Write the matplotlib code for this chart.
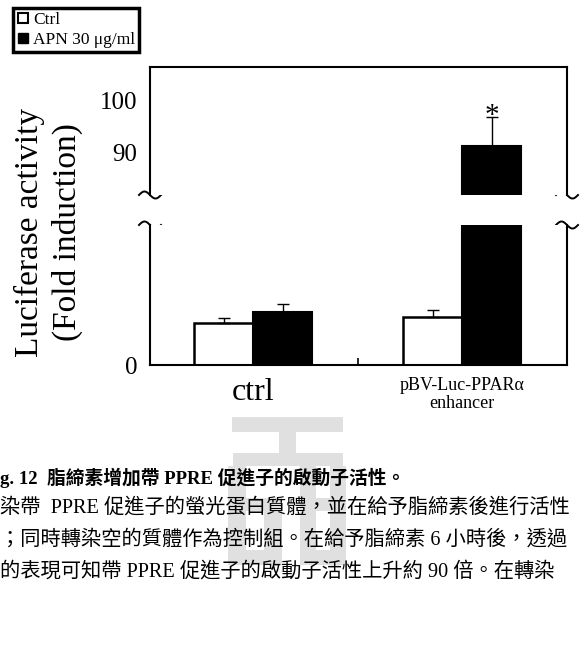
import numpy as np
import matplotlib.pyplot as plt
from matplotlib.lines import Line2D
from matplotlib.patches import Rectangle

# data
groups = ['ctrl', 'pBV-Luc-PPARα\nenhancer']
series = ['Ctrl', 'APN 30 μg/ml']
ctrl_vals = [1.00, 1.14]
ctrl_err = [0.12, 0.17]
apn_vals = [1.26, 91.35]
apn_err = [0.19, 5.6]
upper_ticks = [90, 100]
lower_ticks = [0]
caption = [
    'g. 12  脂締素增加帶 PPRE 促進子的啟動子活性。',
    '染帶  PPRE 促進子的螢光蛋白質體，並在給予脂締素後進行活性',
    '；同時轉染空的質體作為控制組。在給予脂締素 6 小時後，透過',
    '的表現可知帶 PPRE 促進子的啟動子活性上升約 90 倍。在轉染',
]

plt.rcParams['font.family'] = ['Liberation Serif', 'Noto Sans CJK TC']

W, H = 582, 652
fig = plt.figure(figsize=(W / 100, H / 100), dpi=100)
fig.patch.set_facecolor('white')


def box(x0, y0, x1, y1):
    # pixel box (top-left origin) -> figure fraction rect
    return [x0 / W, 1 - y1 / H, (x1 - x0) / W, (y1 - y0) / H]


# background layer in pixel coords: watermark + axis break marks
bg = fig.add_axes([0, 0, 1, 1], zorder=-1)
bg.set_xlim(0, W)
bg.set_ylim(H, 0)
bg.axis('off')
wm = '#e0e0e0'
for (x0, y0, x1, y1) in [(232, 417, 343, 432), (279, 432, 296, 453), (233, 453, 343, 466),
                         (228, 466, 246, 565), (228, 550, 282, 565), (246, 498, 282, 511),
                         (264, 511, 282, 550), (300, 466, 316, 565), (330, 466, 346, 565),
                         (300, 550, 346, 565), (316, 498, 330, 511)]:
    bg.add_patch(Rectangle((x0, y0), x1 - x0, y1 - y0, color=wm, lw=0))

# axes
ax_top = fig.add_axes(box(150, 67, 567, 195))
ax_bot = fig.add_axes(box(150, 225, 567, 365))

x = np.arange(len(groups))
w = 0.282
for ax in (ax_top, ax_bot):
    ax.bar(x - w / 2, ctrl_vals, w, color='white', edgecolor='black', linewidth=1.8,
           yerr=[np.zeros(len(x)), ctrl_err], capsize=4,
           error_kw=dict(ecolor='black', elinewidth=1, capthick=1))
    ax.bar(x + w / 2, apn_vals, w, color='black', edgecolor='black', linewidth=1.5,
           yerr=[np.zeros(len(x)), apn_err], capsize=4,
           error_kw=dict(ecolor='black', elinewidth=1, capthick=1))
    ax.set_xlim(-0.493, 1.502)
    for s in ax.spines.values():
        s.set_linewidth(1.5)
    ax.tick_params(axis='y', length=0, labelsize=18, pad=9)

ax_top.set_ylim(81.9, 106.5)
ax_bot.set_ylim(0, 3.33)
ax_top.set_yticks(upper_ticks)
ax_bot.set_yticks(lower_ticks)
ax_top.spines['bottom'].set_visible(False)
ax_bot.spines['top'].set_visible(False)
ax_top.set_xticks([])

ax_bot.set_xticks(x, labels=groups)
ax_bot.set_xticks([0.5], minor=True)
ax_bot.tick_params(axis='x', which='major', length=0, pad=9)
ax_bot.tick_params(axis='x', which='minor', direction='in', length=5, width=1.2)
labels = ax_bot.get_xticklabels()
labels[0].set_fontsize(23)
labels[1].set_fontsize(13)
labels[1].set_linespacing(1.0)

ax_top.text(x[1] + w / 2, apn_vals[1] + apn_err[1] - 1.3, '*', ha='center', va='baseline', fontsize=21)

# break marks
for y0 in (195, 225):
    for x0 in (150, 567):
        t = np.linspace(-11, 11, 60)
        bg.plot(x0 + t, y0 + 3.5 * np.sin(2 * np.pi * t / 22), color='black', lw=1.4)

# y label
fig.text(29 / W, 1 - 232 / H, 'Luciferase activity', rotation=90, ha='center', va='center', fontsize=24)
fig.text(67 / W, 1 - 232 / H, '(Fold induction)', rotation=90, ha='center', va='center', fontsize=24)

# legend
handles = [Line2D([], [], marker='s', ls='none', markersize=7, markerfacecolor='white',
                  markeredgecolor='black', markeredgewidth=1.5),
           Line2D([], [], marker='s', ls='none', markersize=7, markerfacecolor='black',
                  markeredgecolor='black')]
leg = fig.legend(handles, series, loc='upper left', bbox_to_anchor=(13 / W, 1 - 8 / H),
                 fancybox=False, edgecolor='black', fontsize=12.5, handlelength=0.6,
                 handletextpad=0.3, borderpad=0.25, labelspacing=0.2, borderaxespad=0,
                 framealpha=1)
leg.get_frame().set_linewidth(2.5)

# caption
cap_y = [478, 508, 540, 572]
fig.text(0, 1 - cap_y[0] / H, caption[0], ha='left', va='center', fontsize=13.5, fontweight='bold')
for line, yy in zip(caption[1:], cap_y[1:]):
    fig.text(0, 1 - yy / H, line, ha='left', va='center', fontsize=14.6)

fig.savefig('out.png', dpi=100)
